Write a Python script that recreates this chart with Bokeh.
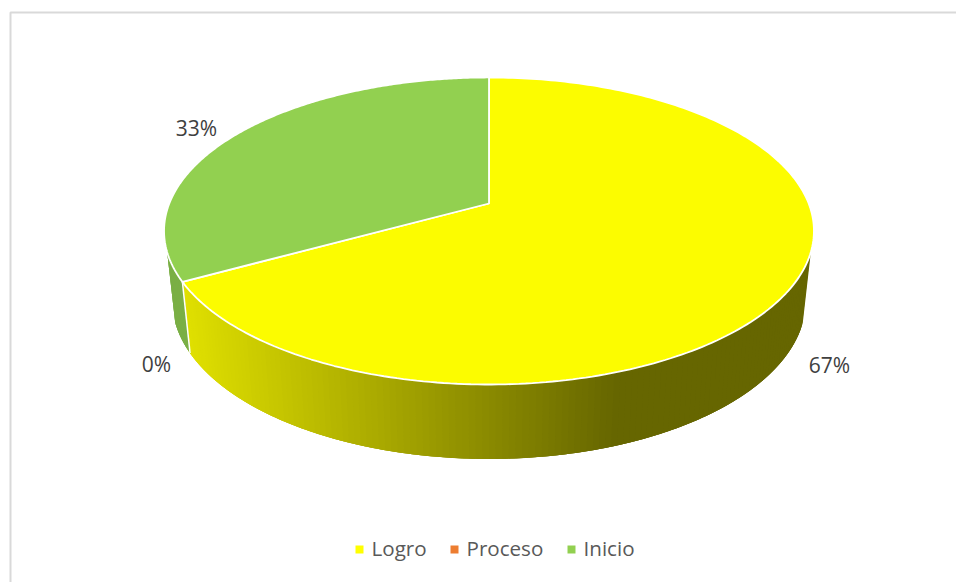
import numpy as np
from bokeh.plotting import figure
from bokeh.models import Range1d
from bokeh.embed import file_html
from bokeh.resources import INLINE
from bokeh.core.properties import value

categories = ["Logro", "Proceso", "Inicio"]
values = [67, 0, 33]
colors = ["#FCFC00", "#ED7D31", "#92D050"]
side_green = "#7AAF45"
side_light = np.array([0xE0, 0xE0, 0x00])
side_dark = np.array([0x66, 0x66, 0x00])

# Projection of the pie disc (page pixels)
CX, CY, A, B, K = 488.5, 203.0, 319.7, 148.6, 0.179
BX, BY0, BC = 0.975, 272.0, 1.03
WALL_FROM, WALL_TO = 108, 252


def top(t):
    X, Y = np.sin(t), -np.cos(t)
    d = 1 - K * Y
    return CX + A * X / d, CY + B * Y / d


def bottom(t):
    X, Y = np.sin(t), -np.cos(t)
    d = 1 - K * Y
    return CX + BX * A * X / d, BY0 + BC * B * Y / d


p = figure(width=956, height=582, output_backend="svg", toolbar_location=None,
           x_range=Range1d(0, 956), y_range=Range1d(582, 0), min_border=0,
           outline_line_color=None)
p.axis.visible = False
p.grid.visible = False
p.background_fill_color = "white"
p.border_fill_color = "white"

# Chart frame (only top and left edges show in the crop)
p.line([10, 10, 956], [582, 12, 12], line_color="#D9D9D9", line_width=2)

total = sum(values)
fracs = np.cumsum([0] + values) / total
angles = fracs * 2 * np.pi

# Side wall: overlapping strips painted in order, so no seams show
edges = np.radians(np.arange(WALL_FROM, WALL_TO + 0.5, 1.0))
wall_end = np.radians(WALL_TO)
xs, ys, cols = [], [], []
boundary = angles[1]
for a in edges[:-1]:
    ts = np.linspace(a, min(a + np.radians(3.0), wall_end), 5)
    tx, ty = top(ts)
    bx, by = bottom(ts[::-1])
    xs.append(list(tx) + list(bx))
    ys.append(list(ty) + list(by))
    if a >= boundary - np.radians(0.5):
        cols.append(side_green)
    else:
        m = bottom(np.array([a + np.radians(0.5)]))[0][0]
        f = np.clip((m - 190) / (613 - 190), 0, 1)
        c = side_light + (side_dark - side_light) * f
        cols.append("#%02x%02x%02x" % tuple(int(round(v)) for v in c))
p.patches(xs, ys, fill_color=cols, line_color=None)

# 0% slice seam on the wall
sx = [top(boundary)[0], bottom(boundary)[0]]
sy = [top(boundary)[1], bottom(boundary)[1]]
p.line(sx, sy, line_color="white", line_width=1.5)

# Top faces
for i, col in enumerate(colors):
    if values[i] == 0:
        continue
    t = np.linspace(angles[i], angles[i + 1], 240)
    x, y = top(t)
    p.patch([CX] + list(x), [CY] + list(y), fill_color=col,
            line_color="white", line_width=1.8)

# Data labels
label_x = [829, 156, 196]
label_y = [364, 363, 127]
labels = [f"{v}%" for v in values]
p.text(label_x, label_y, text=labels, text_align="center", text_baseline="middle",
       text_font=value("Open Sans"), text_font_size="21px", text_color="#404040")

# Legend
marker_x = [359, 454, 571]
text_x = [371, 466, 583]
marker_y = [549, 549, 549]
text_y = [547, 547, 547]
p.scatter(marker_x, marker_y, marker="square", size=8, fill_color=["#FFFF00", "#ED7D31", "#92D050"],
          line_color=None)
p.text(text_x, text_y, text=categories, text_align="left", text_baseline="middle",
       text_font=value("Open Sans"), text_font_size="20.6px", text_color="#595959")

open("out.html", "w").write(file_html(p, INLINE))
